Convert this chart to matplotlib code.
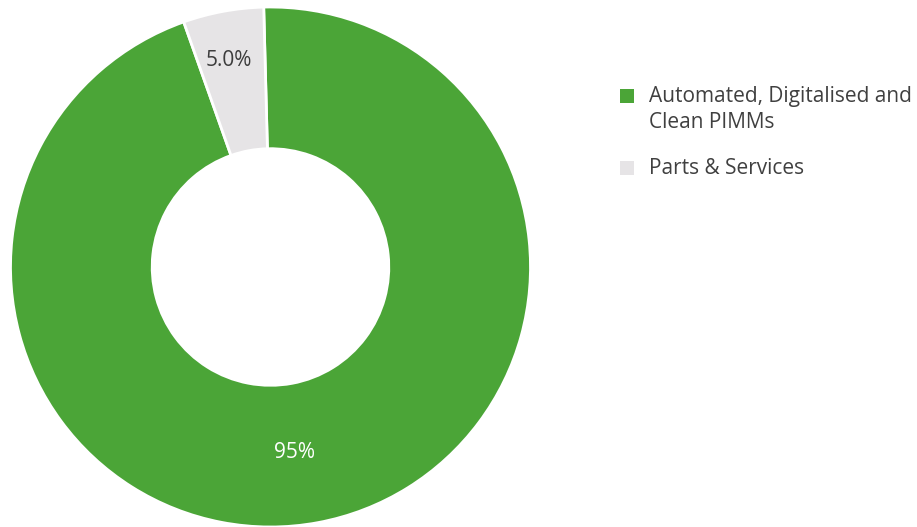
import matplotlib.pyplot as plt
import numpy as np
from matplotlib.patches import Rectangle

# Revenue split by segment
segments = ['Automated, Digitalised and\nClean PIMMs', 'Parts & Services']
shares = [95.0, 5.0]
share_labels = ['95%', '5.0%']
colors = ['#4ba537', '#e6e4e6']
label_colors = ['white', '#3c3c3c']

# label placement: radius and angle shift (deg) from the wedge middle
label_radius = [0.72, 0.81]
label_shift = [-3.0, 1.0]

plt.rcParams['font.family'] = ['Open Sans', 'DejaVu Sans']
text_color = '#404040'

fig = plt.figure(figsize=(9.17, 5.27), dpi=100)
ax = fig.add_axes([10.5 / 917, 0, 520 / 917, 520 / 527])

wedges, _ = ax.pie(shares, colors=colors, startangle=91.5, counterclock=False,
                   radius=1, wedgeprops=dict(width=0.545, edgecolor='white', linewidth=2))

for w, lab, col, r, sh in zip(wedges, share_labels, label_colors, label_radius, label_shift):
    mid = np.deg2rad((w.theta1 + w.theta2) / 2 + sh)
    ax.text(r * np.cos(mid), r * np.sin(mid), lab, ha='center', va='center',
            color=col, fontsize=15)

ax.set_xlim(-1, 1)
ax.set_ylim(-1, 1)
ax.set_aspect('equal')
ax.axis('off')

# legend drawn by hand so the swatch lines up with the first text line
W, H = 917, 527
row_top = [96, 168]
for seg, c, y in zip(segments, colors, row_top):
    fig.patches.append(Rectangle((620 / W, 1 - (y + 7) / H), 14 / W, 14 / H,
                                 transform=fig.transFigure, facecolor=c, edgecolor='none'))
    fig.text(649 / W, 1 - (y - 10) / H, seg, ha='left', va='top', fontsize=15,
             color=text_color, linespacing=1.32)

fig.savefig('out.png', dpi=100)
